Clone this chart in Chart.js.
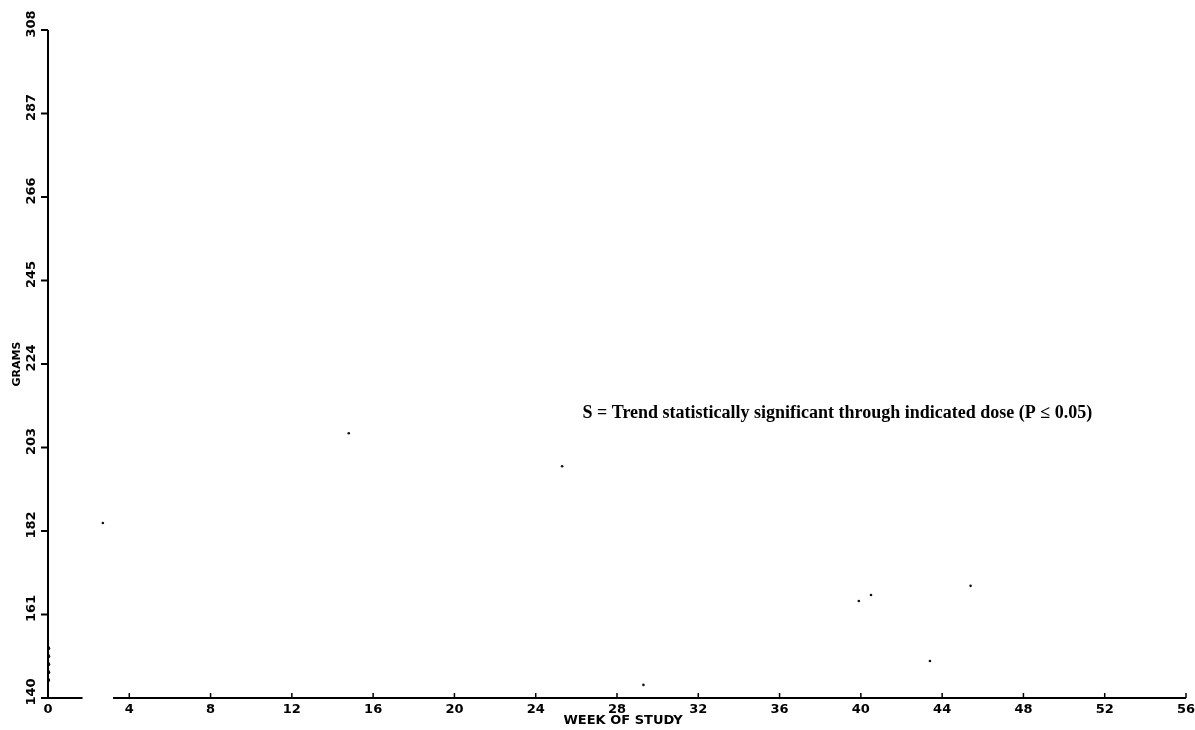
<!DOCTYPE html>
<html><head><meta charset="utf-8">
<script src="https://cdn.jsdelivr.net/npm/chart.js@4"></script>
<style>html,body{margin:0;padding:0;background:#fff;}canvas{display:block;}</style>
</head><body>
<canvas id="c" width="1195" height="730"></canvas>
<script>
// ---- data ----
const weekTicks = [0, 4, 8, 12, 16, 20, 24, 28, 32, 36, 40, 44, 48, 52, 56];
const gramTicks = [140, 161, 182, 203, 224, 245, 266, 287, 308];
const xTitle = 'WEEK OF STUDY';
const yTitle = 'GRAMS';
const noteText = 'S = Trend statistically significant through indicated dose (P \u2264 0.05)';
// faint isolated marks visible on the scan
const strayWeeks = [2.7, 14.8, 25.3, 29.3, 39.9, 40.5, 43.4, 45.4];
const strayGrams = [184.0, 206.6, 198.3, 143.3, 164.4, 165.9, 149.3, 168.2];
// marks piled on the vertical axis at week 0
const startWeeks = [0, 0, 0, 0, 0];
const startGrams = [144.5, 146.5, 148.5, 150.5, 152.5];

const axisPlugin = {
  id: 'scanAxes',
  beforeDatasetsDraw(chart) {
    const ctx = chart.ctx;
    const xs = chart.scales.x, ys = chart.scales.y;
    const x0 = xs.getPixelForValue(0);
    const yb = ys.getPixelForValue(140);
    const yt = ys.getPixelForValue(308);
    ctx.save();
    ctx.strokeStyle = '#000';
    ctx.fillStyle = '#000';
    ctx.lineWidth = 2;
    // vertical axis
    ctx.beginPath(); ctx.moveTo(x0, yt); ctx.lineTo(x0, yb + 1); ctx.stroke();
    gramTicks.forEach(v => {
      const y = ys.getPixelForValue(v);
      ctx.beginPath(); ctx.moveTo(x0 - 7, y); ctx.lineTo(x0, y); ctx.stroke();
    });
    // horizontal axis (with the break near the origin)
    const segs = [[0, 1.7], [3.2, 56]];
    segs.forEach(s => {
      ctx.beginPath();
      ctx.moveTo(xs.getPixelForValue(s[0]), yb);
      ctx.lineTo(xs.getPixelForValue(s[1]), yb);
      ctx.stroke();
    });
    ctx.lineWidth = 1.5;
    weekTicks.forEach(w => {
      if (w === 0) return;
      const x = xs.getPixelForValue(w);
      ctx.beginPath(); ctx.moveTo(x, yb); ctx.lineTo(x, yb - 5); ctx.stroke();
    });
    // y tick labels (rotated)
    ctx.font = 'bold 13px "DejaVu Sans"';
    ctx.textAlign = 'center';
    ctx.textBaseline = 'middle';
    gramTicks.forEach(v => {
      const y = ys.getPixelForValue(v) - 6;
      ctx.save();
      ctx.translate(32, y);
      ctx.rotate(-Math.PI / 2);
      ctx.fillText(String(v), 0, 0);
      ctx.restore();
    });
    // y title
    ctx.save();
    ctx.font = 'bold 11px "DejaVu Sans"';
    ctx.translate(17, ys.getPixelForValue(224));
    ctx.rotate(-Math.PI / 2);
    ctx.fillText(yTitle, 0, 0);
    ctx.restore();
    // x tick labels
    ctx.font = 'bold 13px "DejaVu Sans"';
    weekTicks.forEach(w => {
      ctx.fillText(String(w), xs.getPixelForValue(w), yb + 12);
    });
    // x title
    ctx.font = 'bold 13px "DejaVu Sans"';
    ctx.fillText(xTitle, xs.getPixelForValue(28.3), yb + 23);
    // annotation
    ctx.font = 'bold 18px "Liberation Serif"';
    ctx.textAlign = 'left';
    ctx.fillText(noteText, xs.getPixelForValue(26.3), ys.getPixelForValue(211.5));
    ctx.restore();
  }
};

new Chart(document.getElementById('c'), {
  type: 'scatter',
  data: {
    datasets: [
      {
        label: 'marks',
        data: strayWeeks.map((w, i) => ({ x: w, y: strayGrams[i] })),
        pointRadius: 1.3,
        pointBackgroundColor: '#111',
        pointBorderWidth: 0,
        showLine: false
      },
      {
        label: 'start',
        data: startWeeks.map((w, i) => ({ x: w, y: startGrams[i] })),
        pointRadius: 2.2,
        pointBackgroundColor: '#000',
        pointBorderWidth: 0,
        showLine: false
      }
    ]
  },
  options: {
    responsive: false,
    animation: false,
    layout: { padding: { left: 48, right: 9, top: 30, bottom: 32 } },
    plugins: { legend: { display: false }, tooltip: { enabled: false } },
    scales: {
      x: { type: 'linear', min: 0, max: 56, display: false },
      y: { type: 'linear', min: 140, max: 308, display: false }
    }
  },
  plugins: [axisPlugin]
});
</script>
</body></html>
